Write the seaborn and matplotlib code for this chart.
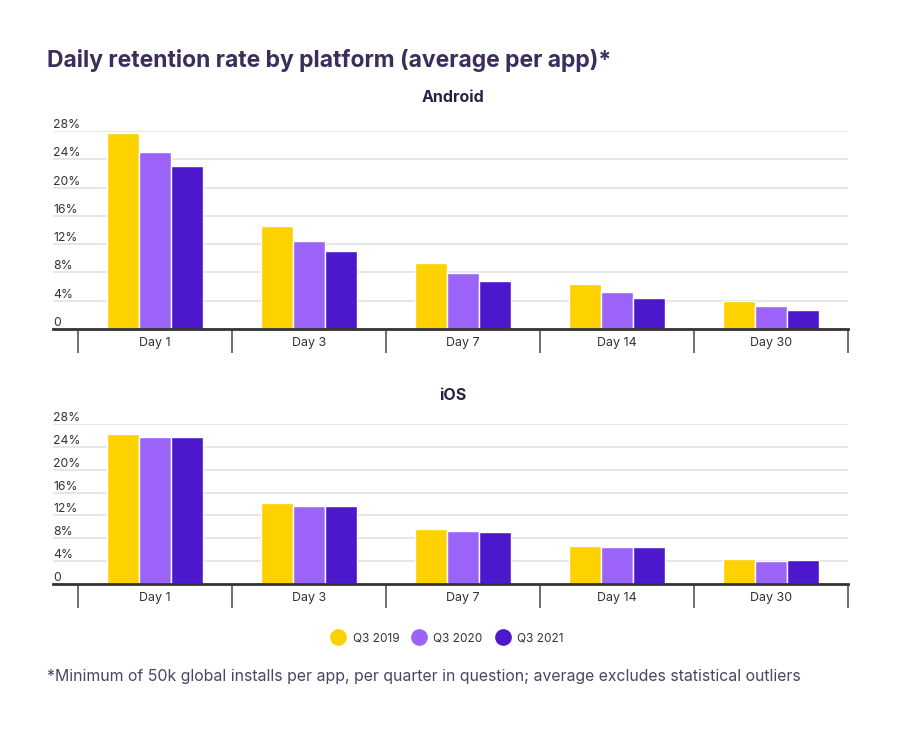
import matplotlib
matplotlib.use("Agg")
import matplotlib.pyplot as plt
from matplotlib.lines import Line2D
import seaborn as sns
import pandas as pd

days = ["Day 1", "Day 3", "Day 7", "Day 14", "Day 30"]
quarters = ["Q3 2019", "Q3 2020", "Q3 2021"]
android_2019 = [27.7, 14.5, 9.4, 6.3, 3.9]
android_2020 = [25.0, 12.4, 7.9, 5.2, 3.2]
android_2021 = [23.1, 11.1, 6.8, 4.4, 2.7]
ios_2019 = [26.2, 14.1, 9.6, 6.7, 4.3]
ios_2020 = [25.7, 13.7, 9.3, 6.4, 4.1]
ios_2021 = [25.75, 13.7, 9.15, 6.4, 4.2]
ytick_vals = [0, 4, 8, 12, 16, 20, 24, 28]
ytick_labels = ["0", "4%", "8%", "12%", "16%", "20%", "24%", "28%"]
colors = ["#FDD200", "#9B63F8", "#4B18CC"]

title = "Daily retention rate by platform (average per app)*"
footnote = "*Minimum of 50k global installs per app, per quarter in question; average excludes statistical outliers"

sns.set_theme(style="white")
plt.rcParams["font.family"] = ["Inter", "DejaVu Sans"]

def long_df(series):
    rows = []
    for q, vals in zip(quarters, series):
        for d, v in zip(days, vals):
            rows.append({"day": d, "quarter": q, "value": v})
    return pd.DataFrame(rows)

df_android = long_df([android_2019, android_2020, android_2021])
df_ios = long_df([ios_2019, ios_2020, ios_2021])

fig = plt.figure(figsize=(9.04, 7.32), dpi=100)
W, H = 904, 732

def make_ax(top_px, bottom_px):
    left, right = 53, 848
    return fig.add_axes([left / W, (H - bottom_px) / H, (right - left) / W, (bottom_px - top_px) / H])

ax_a = make_ax(131, 329)
ax_i = make_ax(424, 584)

for ax, df, sub, sub_y in [(ax_a, df_android, "Android", 98), (ax_i, df_ios, "iOS", 395)]:
    sns.barplot(data=df, x="day", y="value", hue="quarter", hue_order=quarters, order=days,
                palette=colors, saturation=1, width=0.62, edgecolor="white", linewidth=1,
                ax=ax, legend=False, errorbar=None)
    ax.set_xlim(-0.5 - 25 / 154, 4.5)
    ax.set_ylim(0, 28)
    ax.set_yticks(ytick_vals)
    ax.set_yticklabels(ytick_labels)
    ax.yaxis.grid(True, color="#e2e2e2", linewidth=1.2)
    ax.set_axisbelow(True)
    for s in ["top", "right", "left"]:
        ax.spines[s].set_visible(False)
    ax.spines["bottom"].set_color("#333333")
    ax.spines["bottom"].set_linewidth(2)
    ax.set_xlabel("")
    ax.set_ylabel("")
    ax.tick_params(axis="y", length=0, pad=0, labelsize=8.8, labelcolor="#333333")
    for lab in ax.get_yticklabels():
        lab.set_horizontalalignment("left")
        lab.set_verticalalignment("bottom")
    ax.set_xticks([i - 0.5 for i in range(len(days) + 1)], minor=True)
    ax.tick_params(axis="x", which="minor", bottom=True, length=17, width=1.2,
                   color="#555555", direction="out")
    ax.tick_params(axis="x", which="major", bottom=False, length=0, pad=6, labelsize=9,
                   labelcolor="#333333")
    fig.text(453 / W, 1 - sub_y / H, sub, ha="center", va="center", fontsize=11.5,
             fontweight="bold", color="#2a1f45")

fig.text(47 / W, 1 - 60 / H, title, ha="left", va="center", fontsize=16.5,
         fontweight="bold", color="#3b2e5a")

handles = [Line2D([0], [0], marker="o", linestyle="", markersize=11, markerfacecolor=c,
                  markeredgecolor=c) for c in colors]
fig.legend(handles, quarters, loc="center", bbox_to_anchor=(445 / W, 1 - 638 / H), ncol=3,
           frameon=False, fontsize=8.5, handletextpad=0.2, columnspacing=0.7,
           labelcolor="#333333")

fig.text(47 / W, 1 - 676 / H, footnote, ha="left", va="center", fontsize=11.4, color="#4a4560")

fig.savefig("out.png", dpi=100, facecolor="white")
